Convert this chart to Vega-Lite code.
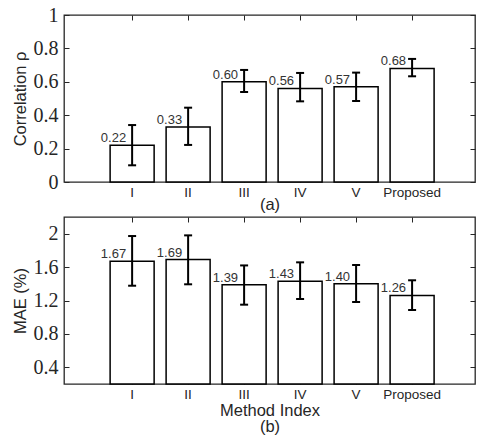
{
  "$schema": "https://vega.github.io/schema/vega-lite/v6.json",
  "padding": {"left": 11, "top": 4, "right": 5, "bottom": 2},
  "background": "white",
  "datasets": {
    "d": [
      {"label": "I", "corr": 0.22, "corrLo": 0.10, "corrHi": 0.341, "mae": 1.67, "maeLo": 1.377, "maeHi": 1.972},
      {"label": "II", "corr": 0.33, "corrLo": 0.222, "corrHi": 0.445, "mae": 1.69, "maeLo": 1.394, "maeHi": 1.98},
      {"label": "III", "corr": 0.60, "corrLo": 0.539, "corrHi": 0.671, "mae": 1.39, "maeLo": 1.15, "maeHi": 1.62},
      {"label": "IV", "corr": 0.56, "corrLo": 0.483, "corrHi": 0.653, "mae": 1.43, "maeLo": 1.218, "maeHi": 1.657},
      {"label": "V", "corr": 0.57, "corrLo": 0.485, "corrHi": 0.655, "mae": 1.40, "maeLo": 1.182, "maeHi": 1.625},
      {"label": "Proposed", "corr": 0.68, "corrLo": 0.633, "corrHi": 0.737, "mae": 1.26, "maeLo": 1.086, "maeHi": 1.442}
    ]
  },
  "spacing": 1,
  "vconcat": [
    {
      "width": 411,
      "height": 167,
      "data": {"name": "d"},
      "layer": [
        {
          "mark": {"type": "bar", "fill": "white", "stroke": "black", "strokeWidth": 1.5},
          "encoding": {
            "x": {"field": "label", "type": "nominal", "sort": null,
              "scale": {"paddingInner": 0.214, "paddingOuter": 0.777, "align": 0.53},
              "axis": {"orient": "bottom", "labelAngle": 0, "title": "(a)", "labelPadding": 8, "titlePadding": -2, "labelFont": "Liberation Sans", "labelFontSize": 13.5}},
            "y": {"field": "corr", "type": "quantitative", "scale": {"domain": [0, 1], "nice": false},
              "axis": {"orient": "left", "title": "Correlation  ρ", "values": [0, 0.2, 0.4, 0.6, 0.8, 1], "format": "~g", "labelPadding": 11, "titlePadding": 5, "labelFont": "Liberation Serif", "labelFontSize": 20}}
          }
        },
        {
          "mark": {"type": "rule", "strokeWidth": 2, "color": "black"},
          "encoding": {
            "x": {"field": "label", "type": "nominal", "sort": null, "axis": null},
            "y": {"field": "corrLo", "type": "quantitative", "axis": null},
            "y2": {"field": "corrHi"}
          }
        },
        {
          "mark": {"type": "tick", "thickness": 2, "size": 8, "color": "black", "opacity": 1},
          "encoding": {
            "x": {"field": "label", "type": "nominal", "sort": null, "axis": null},
            "y": {"field": "corrLo", "type": "quantitative", "axis": null}
          }
        },
        {
          "mark": {"type": "tick", "thickness": 2, "size": 8, "color": "black", "opacity": 1},
          "encoding": {
            "x": {"field": "label", "type": "nominal", "sort": null, "axis": null},
            "y": {"field": "corrHi", "type": "quantitative", "axis": null}
          }
        },
        {
          "mark": {"type": "text", "align": "right", "baseline": "bottom", "dx": -6, "font": "Liberation Sans", "fontSize": 13, "color": "#333333"},
          "encoding": {
            "x": {"field": "label", "type": "nominal", "sort": null, "axis": null},
            "y": {"field": "corr", "type": "quantitative", "axis": null},
            "text": {"field": "corr", "format": ".2f"}
          }
        },
        {
          "mark": {"type": "tick", "opacity": 0},
          "encoding": {
            "x": {"field": "label", "type": "nominal", "sort": null,
              "axis": {"orient": "top", "labels": false, "title": null}},
            "y": {"field": "corr", "type": "quantitative",
              "axis": {"orient": "right", "labels": false, "title": null, "values": [0, 0.2, 0.4, 0.6, 0.8, 1]}}
          }
        }
      ],
      "resolve": {"axis": {"x": "independent", "y": "independent"}}
    },
    {
      "width": 411,
      "height": 167,
      "data": {"name": "d"},
      "layer": [
        {
          "mark": {"type": "bar", "fill": "white", "stroke": "black", "strokeWidth": 1.5},
          "encoding": {
            "x": {"field": "label", "type": "nominal", "sort": null,
              "scale": {"paddingInner": 0.214, "paddingOuter": 0.777, "align": 0.53},
              "axis": {"orient": "bottom", "labelAngle": 0, "title": ["Method Index", "(b)"], "labelPadding": 8, "titlePadding": 1.5, "titleLineHeight": 16.5, "labelFont": "Liberation Sans", "labelFontSize": 13.5}},
            "y": {"field": "mae", "type": "quantitative", "scale": {"domain": [0.2, 2.2], "nice": false, "zero": false},
              "axis": {"orient": "left", "title": "MAE (%)", "values": [0.4, 0.8, 1.2, 1.6, 2], "format": "~g", "labelPadding": 11, "titlePadding": 5, "labelFont": "Liberation Serif", "labelFontSize": 20}},
            "y2": {"datum": 0.2}
          }
        },
        {
          "mark": {"type": "rule", "strokeWidth": 2, "color": "black"},
          "encoding": {
            "x": {"field": "label", "type": "nominal", "sort": null, "axis": null},
            "y": {"field": "maeLo", "type": "quantitative", "axis": null},
            "y2": {"field": "maeHi"}
          }
        },
        {
          "mark": {"type": "tick", "thickness": 2, "size": 8, "color": "black", "opacity": 1},
          "encoding": {
            "x": {"field": "label", "type": "nominal", "sort": null, "axis": null},
            "y": {"field": "maeLo", "type": "quantitative", "axis": null}
          }
        },
        {
          "mark": {"type": "tick", "thickness": 2, "size": 8, "color": "black", "opacity": 1},
          "encoding": {
            "x": {"field": "label", "type": "nominal", "sort": null, "axis": null},
            "y": {"field": "maeHi", "type": "quantitative", "axis": null}
          }
        },
        {
          "mark": {"type": "text", "align": "right", "baseline": "bottom", "dx": -6, "font": "Liberation Sans", "fontSize": 13, "color": "#333333"},
          "encoding": {
            "x": {"field": "label", "type": "nominal", "sort": null, "axis": null},
            "y": {"field": "mae", "type": "quantitative", "axis": null},
            "text": {"field": "mae", "format": ".2f"}
          }
        },
        {
          "mark": {"type": "tick", "opacity": 0},
          "encoding": {
            "x": {"field": "label", "type": "nominal", "sort": null,
              "axis": {"orient": "top", "labels": false, "title": null}},
            "y": {"field": "mae", "type": "quantitative",
              "axis": {"orient": "right", "labels": false, "title": null, "values": [0.4, 0.8, 1.2, 1.6, 2]}}
          }
        }
      ],
      "resolve": {"axis": {"x": "independent", "y": "independent"}}
    }
  ],
  "config": {
    "view": {"stroke": "#262626", "strokeWidth": 1.3},
    "axis": {
      "domain": false, "grid": false,
      "tickColor": "#262626", "tickSize": -5, "tickWidth": 1,
      "labelColor": "#262626", "titleColor": "#262626",
      "titleFont": "Liberation Sans", "titleFontSize": 16.5, "titleFontWeight": "normal"
    }
  }
}
